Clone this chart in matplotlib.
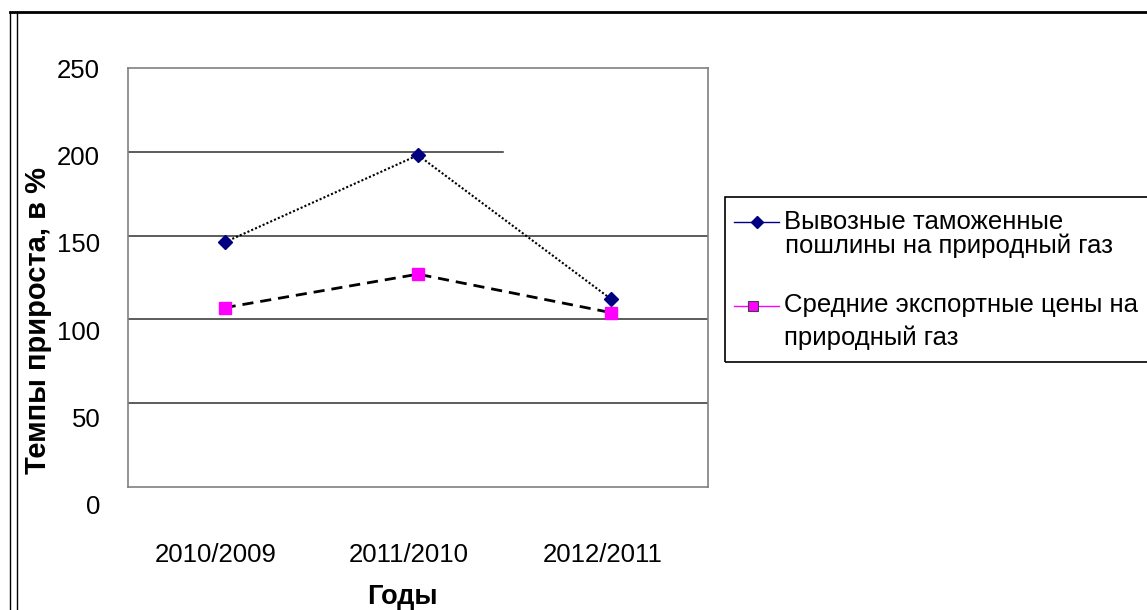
import matplotlib
matplotlib.use("Agg")
import matplotlib.pyplot as plt
from matplotlib.lines import Line2D
from matplotlib.patches import Rectangle
from matplotlib.transforms import ScaledTranslation

plt.rcParams['font.family'] = ['Liberation Sans', 'DejaVu Sans']

# data
periods = ["2010/2009", "2011/2010", "2012/2011"]
duties = [146, 198, 112]
prices = [107, 127, 104]
y_ticks = [0, 50, 100, 150, 200, 250]
grid_values = [50, 100, 150, 200]
label_duties = ["Вывозные таможенные", " пошлины на природный газ"]
label_prices = ["Средние экспортные цены на", "природный газ"]

W, H = 1147, 610
fig = plt.figure(figsize=(W / 100, H / 100), dpi=100)


def fx(px):
    return px / W


def fy(py):
    return 1 - py / H


ax = fig.add_axes([fx(128), fy(487), fx(708) - fx(128), fy(68) - fy(487)])
x = list(range(len(periods)))

# gridlines (the 200 one stops short in the original)
for v in grid_values:
    xmax = 0.647 if v == 200 else 1.0
    ax.axhline(v, xmin=0, xmax=xmax, color="#303030", lw=1.1, zorder=1)

ax.plot(x, duties, color="black", lw=1.5, ls=(0, (1, 1)), zorder=2)
ax.plot(x, duties, ls="none", marker="D", ms=7, color="#000080", zorder=3)
ax.plot(x, prices, color="black", lw=2, ls=(0, (4, 2.5)), zorder=2)
ax.plot(x, prices, ls="none", marker="s", ms=8, color="#FF00FF", zorder=3)

ax.set_xlim(-0.5, len(periods) - 0.5)
ax.set_ylim(0, 250)
ax.set_yticks([])
ax.set_xticks(x)
ax.set_xticklabels(periods, fontsize=18.5)
ax.tick_params(axis="x", length=0, pad=40)
shift = ScaledTranslation(-9 / 100, 0, fig.dpi_scale_trans)
for lbl in ax.get_xticklabels():
    lbl.set_transform(lbl.get_transform() + shift)
for sp in ax.spines.values():
    sp.set_color("#808080")
    sp.set_linewidth(1.2)

# y tick labels drift a little from the gridlines in the original,
# so they sit on a slightly taller invisible axes
ay = fig.add_axes([fx(128), fy(505), fx(708) - fx(128), fy(68) - fy(505)],
                  frameon=False)
ay.set_xticks([])
ay.set_yticks(y_ticks)
ay.set_yticklabels([str(v) for v in y_ticks], fontsize=18.5)
ay.set_ylim(0, 250)
ay.tick_params(axis="y", length=0, pad=20)
ay.patch.set_visible(False)

fig.text(fx(402), fy(597), "Годы", fontsize=19.5, fontweight="bold",
         ha="center", va="center")
fig.text(fx(38), fy(320), "Темпы прироста, в %", fontsize=21,
         fontweight="bold", rotation=90, ha="center", va="center")

# legend drawn by hand to keep the original layout
fig.add_artist(Rectangle((fx(725), fy(362)), fx(1160) - fx(725),
                         fy(197) - fy(362), transform=fig.transFigure,
                         fill=False, edgecolor="black", lw=1.2))
fig.add_artist(Line2D([fx(734), fx(779)], [fy(222), fy(222)],
                      transform=fig.transFigure, color="#000080", lw=1))
fig.add_artist(Line2D([fx(757)], [fy(222)], transform=fig.transFigure,
                      ls="none", marker="D", ms=6.5, color="#000080"))
fig.add_artist(Line2D([fx(734), fx(779)], [fy(306), fy(306)],
                      transform=fig.transFigure, color="#FF00FF", lw=1))
fig.add_artist(Line2D([fx(753)], [fy(306)], transform=fig.transFigure,
                      ls="none", marker="s", ms=6.5, color="#FF00FF",
                      markeredgecolor="#404040", markeredgewidth=0.8))
fig.text(fx(784), fy(222), label_duties[0], fontsize=18.5, va="center")
fig.text(fx(778), fy(246), label_duties[1], fontsize=18.5, va="center")
fig.text(fx(784), fy(305), label_prices[0], fontsize=18.5, va="center")
fig.text(fx(784), fy(338), label_prices[1], fontsize=18.5, va="center")

# outer frame of the embedded chart
fig.add_artist(Line2D([fx(10), 1], [fy(12), fy(12)],
                      transform=fig.transFigure, color="black", lw=2))
for xp in (10, 17):
    fig.add_artist(Line2D([fx(xp), fx(xp)], [0, fy(12)],
                          transform=fig.transFigure, color="black", lw=1))

fig.savefig("out.png", dpi=100)
